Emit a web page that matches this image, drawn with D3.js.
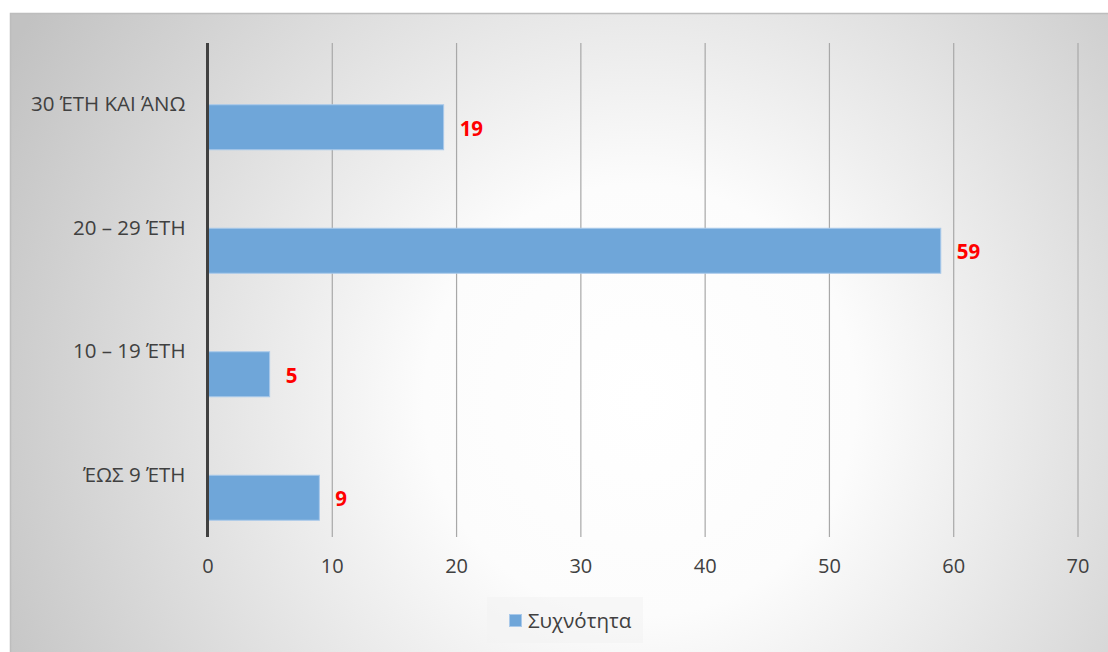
<!DOCTYPE html>
<html><head><meta charset="utf-8">
<script src="https://cdn.jsdelivr.net/npm/d3@7"></script>
<style>body{margin:0;background:#fff;}svg{display:block;}</style>
</head><body>
<svg id="c" width="1108" height="652"></svg>
<script>
const categories = ["ΈΩΣ 9 ΈΤΗ", "10 – 19 ΈΤΗ", "20 – 29 ΈΤΗ", "30 ΈΤΗ ΚΑΙ ΆΝΩ"];
const values = [9, 5, 59, 19];
const xTicks = [0, 10, 20, 30, 40, 50, 60, 70];
const seriesName = "Συχνότητα";

const svg = d3.select("#c");
const defs = svg.append("defs");
const rg = defs.append("radialGradient").attr("id","bg")
  .attr("gradientUnits","userSpaceOnUse").attr("cx",640).attr("cy",400).attr("r",720);
rg.append("stop").attr("offset","0").attr("stop-color","#ffffff");
rg.append("stop").attr("offset","0.3").attr("stop-color","#fcfcfc");
rg.append("stop").attr("offset","1").attr("stop-color","#c2c2c2");

svg.append("rect").attr("x",10.5).attr("y",13.5).attr("width",1110).attr("height",650)
  .attr("fill","url(#bg)").attr("stroke","#bdbdbd").attr("stroke-width",1.5);

const m = {left:207.5, right:1077.5, top:43, bottom:537};
const x = d3.scaleLinear().domain([0,70]).range([m.left, m.right]);
const y = d3.scaleBand().domain(categories.slice().reverse()).range([m.top, m.bottom]);
const barH = 45;
const font = "'Open Sans', sans-serif";

// gridlines
svg.append("g").selectAll("line").data(xTicks.filter(t=>t>0)).join("line")
  .attr("x1",d=>x(d)+0.5).attr("x2",d=>x(d)+0.5).attr("y1",m.top).attr("y2",m.bottom)
  .attr("stroke","#a8a8a8").attr("stroke-width",1.2);

// bars
svg.append("g").selectAll("rect").data(categories).join("rect")
  .attr("x",x(0)).attr("y",(d)=>y(d)+y.bandwidth()/2)
  .attr("width",(d,i)=>x(values[i])-x(0)).attr("height",barH)
  .attr("fill","#6fa6d9").attr("stroke","#a9c9ea").attr("stroke-width",1);

// value labels
svg.append("g").selectAll("text").data(categories).join("text")
  .attr("x",(d,i)=>x(values[i])+16).attr("y",(d)=>y(d)+y.bandwidth()/2+barH/2+1)
  .attr("dy","0.36em").attr("fill","#ff0000").attr("font-weight","bold")
  .attr("font-family",font).attr("font-size",20.5)
  .text((d,i)=>values[i]);

// y axis line
svg.append("line").attr("x1",x(0)).attr("x2",x(0)).attr("y1",m.top).attr("y2",m.bottom)
  .attr("stroke","#404040").attr("stroke-width",3);

// category labels
const yAxis = d3.axisLeft(y).tickSize(0).tickPadding(22);
const ga = svg.append("g").attr("transform",`translate(${x(0)},0)`).call(yAxis);
ga.select(".domain").remove();
ga.selectAll(".tick").attr("transform",d=>`translate(0,${y(d)+y.bandwidth()/2})`);
ga.selectAll("text").attr("fill","#404040").attr("font-family",font).attr("font-size",20.5);

// x axis labels
const xAxis = d3.axisBottom(x).tickValues(xTicks).tickSize(0).tickPadding(22);
const gx = svg.append("g").attr("transform",`translate(0,${m.bottom})`).call(xAxis);
gx.select(".domain").remove();
gx.selectAll("text").attr("fill","#404040").attr("font-family",font).attr("font-size",20);

// legend
const lg = svg.append("g");
lg.append("rect").attr("x",487).attr("y",597).attr("width",156).attr("height",46)
  .attr("fill","#f2f2f2").attr("opacity",0.55);
lg.append("rect").attr("x",509.5).attr("y",614.5).attr("width",12).attr("height",12)
  .attr("fill","#6fa6d9").attr("stroke","#a9c9ea");
lg.append("text").attr("x",528).attr("y",620.5).attr("dy","0.36em")
  .attr("fill","#404040").attr("font-family",font).attr("font-size",20.5)
  .text(seriesName);
</script>
</body></html>
